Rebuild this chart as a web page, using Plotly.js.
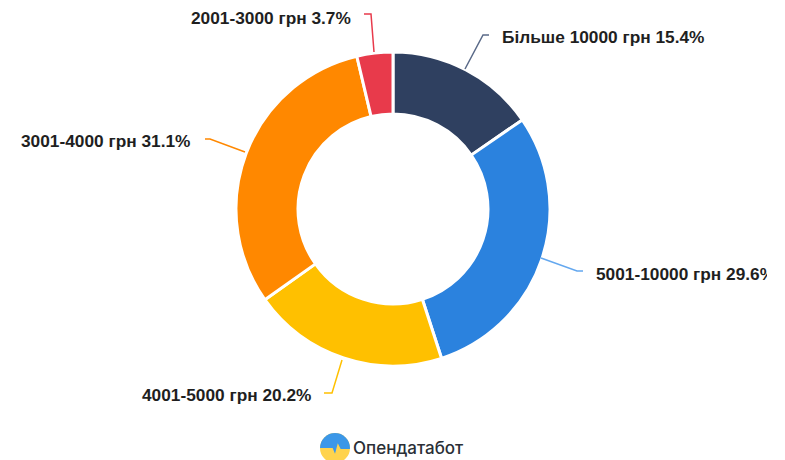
<!DOCTYPE html>
<html><head><meta charset="utf-8">
<script src="https://cdn.plot.ly/plotly-3.0.1.min.js"></script>
<style>html,body{margin:0;padding:0;background:#fff;overflow:hidden}#c{width:767px;height:460px;overflow:hidden}</style>
</head><body><div id="c"></div>
<script>
const categories=["Більше 10000 грн","5001-10000 грн","4001-5000 грн","3001-4000 грн","2001-3000 грн"];
const shares=[15.4,29.6,20.2,31.1,3.7];
const colors=["#2f4060","#2b82de","#ffc000","#ff8800","#e83a4b"];
const leaderColors=["#5a6a88","#64a8ef","#ffc000","#ff8800","#e83a4b"];
const W=767,H=460;
const cx=393,cy=209,R=157;
const labelPos=[[500,37,"left"],[594,274,"left"],[313,395,"right"],[192,141,"right"],[353,18,"right"]];
const leaders=[[[465,69],[483,35],[489,35]],[[541,258],[577,271],[583,271]],[[342,360],[332,393],[324,393]],[[245,152],[210,139],[205,139]],[[374,52],[371,14],[364,14]]];
const px=x=>x/W, py=y=>1-y/H;
const logo='data:image/svg+xml;utf8,'+encodeURIComponent('<svg xmlns="http://www.w3.org/2000/svg" width="64" height="64" viewBox="0 0 64 64"><defs><clipPath id="k"><circle cx="32" cy="32" r="32"/></clipPath></defs><g clip-path="url(#k)"><rect width="64" height="64" fill="#ffd34d"/><path d="M0 0H64V34H44L38 22L32 44L27 32H0Z" fill="#3b97e8"/></g></svg>');
Plotly.newPlot('c',[{type:'pie',labels:categories,values:shares,hole:0.605,sort:false,direction:'clockwise',rotation:0,
 marker:{colors:colors,line:{color:'#fff',width:3}},textinfo:'none',hoverinfo:'label+percent',
 domain:{x:[px(cx-R),px(cx+R)],y:[py(cy+R),py(cy-R)]}}],
 {width:W,height:H,margin:{l:0,r:0,t:0,b:0,pad:0},showlegend:false,paper_bgcolor:'#fff',
 annotations:categories.map((c,i)=>({text:'<b>'+c+' '+shares[i].toFixed(1)+'%</b>',xref:'paper',yref:'paper',
   x:px(labelPos[i][0]),y:py(labelPos[i][1]),xanchor:labelPos[i][2],yanchor:'middle',showarrow:false,
   font:{family:'Liberation Sans, Arial, sans-serif',size:17.3,color:'#1f1f1f'}})).concat([
   {text:'Опендатабот',xref:'paper',yref:'paper',x:px(351),y:py(448),xanchor:'left',yanchor:'middle',showarrow:false,
    font:{family:'Inter, Noto Sans, sans-serif',size:17,weight:500,color:'#2a2f36'}}]),
 shapes:leaders.map((p,i)=>({type:'path',xref:'paper',yref:'paper',
   path:'M'+p.map(q=>px(q[0])+','+py(q[1])).join(' L'),line:{color:leaderColors[i],width:1.5}})),
 images:[{source:logo,xref:'paper',yref:'paper',x:px(320),y:py(433),sizex:30/W,sizey:30/H,sizing:'stretch',xanchor:'left',yanchor:'top'}]
 },{displayModeBar:false,staticPlot:true});
</script></body></html>
